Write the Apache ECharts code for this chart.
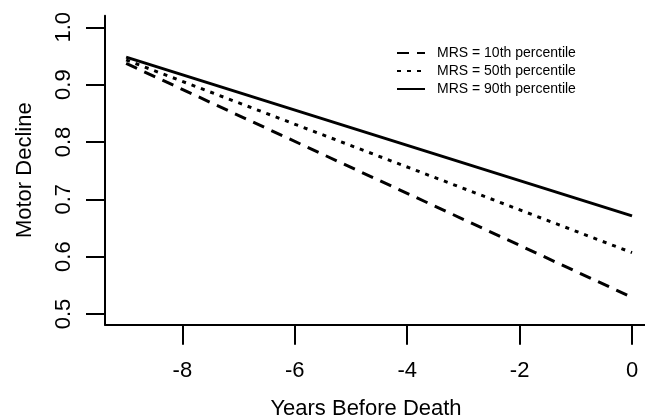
<!DOCTYPE html>
<html>
<head>
<meta charset="utf-8">
<script src="https://cdn.jsdelivr.net/npm/echarts@6/dist/echarts.min.js"></script>
<style>
html,body{margin:0;padding:0;background:#fff;overflow:hidden;}
#main{width:645px;height:418px;}
</style>
</head>
<body>
<div id="main"></div>
<script>
// 年份（死亡前）
var years = [-9, 0];
// 三条拟合线
var mrs10 = [0.937, 0.529];
var mrs50 = [0.943, 0.607];
var mrs90 = [0.948, 0.671];
var seriesNames = ['MRS = 10th percentile', 'MRS = 50th percentile', 'MRS = 90th percentile'];
// 刻度
var xTicks = [-8, -6, -4, -2, 0];
var yTicks = [0.5, 0.6, 0.7, 0.8, 0.9, 1.0];

var font = '"Liberation Sans", Arial, sans-serif';

function pairs(ys) {
    return years.map(function (x, i) { return [x, ys[i]]; });
}

var myChart = echarts.init(document.getElementById('main'));
var option = {
    animation: false,
    backgroundColor: '#fff',
    textStyle: { fontFamily: font, color: '#000' },
    grid: { left: 105, right: 0, top: 15.7, bottom: 93.3, outerBoundsMode: 'none', containLabel: false },
    legend: {
        orient: 'vertical',
        left: 391,
        top: 41,
        itemWidth: 28,
        itemHeight: 14,
        itemGap: 4,
        data: seriesNames,
        itemStyle: { color: 'transparent', borderWidth: 0, opacity: 0 },
        textStyle: { fontFamily: font, fontSize: 14, color: '#000', padding: [0, 0, 0, 7] }
    },
    xAxis: {
        type: 'value',
        min: -9.376,
        max: 0.231,
        name: 'Years Before Death',
        nameLocation: 'middle',
        nameGap: 73,
        nameTextStyle: { fontFamily: font, fontSize: 22, color: '#000', padding: [0, 18, 0, 0] },
        splitLine: { show: false },
        axisLine: { show: true, onZero: false, lineStyle: { color: '#000', width: 2 } },
        axisTick: { show: true, length: 20, lineStyle: { color: '#000', width: 2 }, customValues: xTicks },
        axisLabel: { fontFamily: font, fontSize: 22, color: '#000', margin: 35, customValues: xTicks }
    },
    yAxis: {
        type: 'value',
        min: 0.4813,
        max: 1.0202,
        name: 'Motor Decline',
        nameLocation: 'middle',
        nameGap: 69,
        nameTextStyle: { fontFamily: font, fontSize: 22, color: '#000' },
        splitLine: { show: false },
        axisLine: { show: true, onZero: false, lineStyle: { color: '#000', width: 2 } },
        axisTick: { show: true, length: 19, lineStyle: { color: '#000', width: 2 }, customValues: yTicks },
        axisLabel: {
            fontFamily: font, fontSize: 22, color: '#000', margin: 30, rotate: 90,
            customValues: yTicks,
            formatter: function (v) { return v.toFixed(1); }
        }
    },
    series: [
        {
            name: seriesNames[0], type: 'line', data: pairs(mrs10), symbol: 'none',
            color: '#000',
            lineStyle: { color: '#000', width: 3, type: [12, 8], cap: 'butt' }
        },
        {
            name: seriesNames[1], type: 'line', data: pairs(mrs50), symbol: 'none',
            color: '#000',
            lineStyle: { color: '#000', width: 3, type: [4, 6], cap: 'butt' }
        },
        {
            name: seriesNames[2], type: 'line', data: pairs(mrs90), symbol: 'none',
            color: '#000',
            lineStyle: { color: '#000', width: 3, type: 'solid' }
        }
    ]
};
myChart.setOption(option);
</script>
</body>
</html>
